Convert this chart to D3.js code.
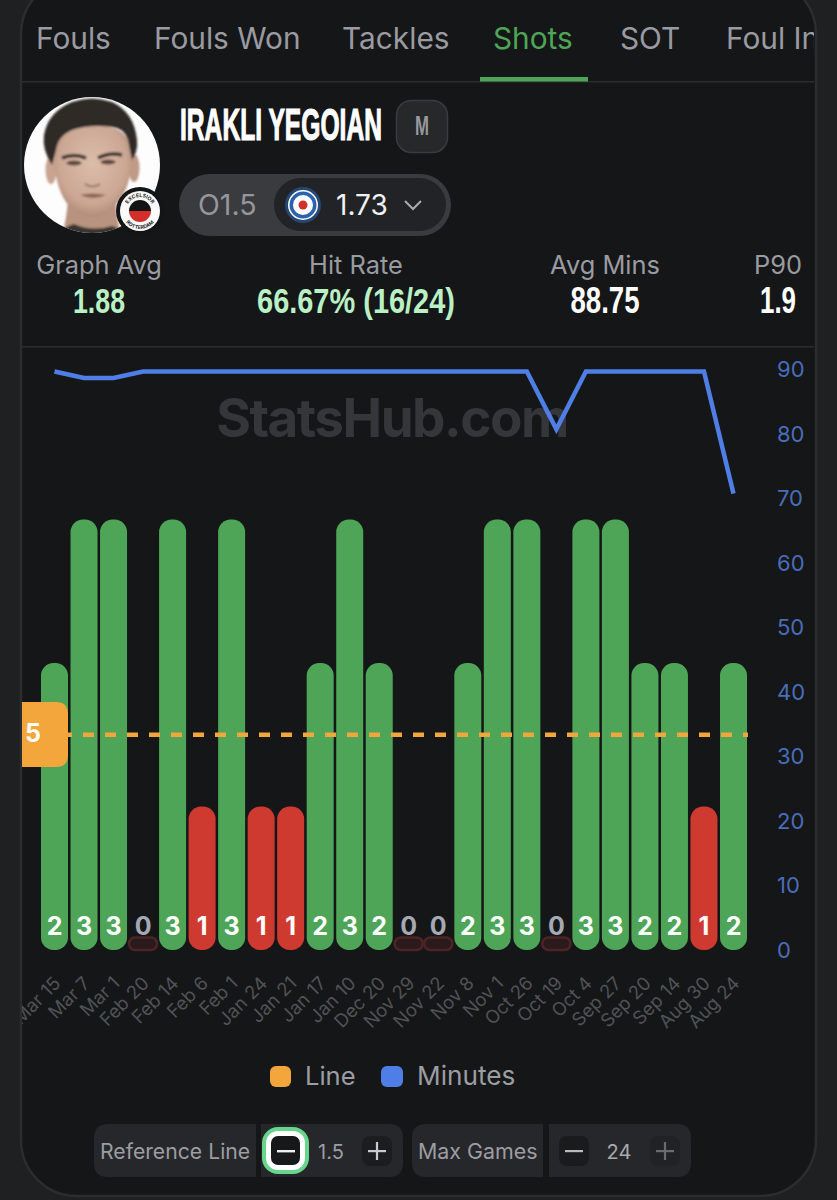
<!DOCTYPE html>
<html>
<head>
<meta charset="utf-8">
<script src="https://cdn.jsdelivr.net/npm/d3@7"></script>
<style>
  html, body { margin: 0; padding: 0; background: #1f2022; }
  svg { display: block; }
  text { font-family: Inter, "Open Sans", sans-serif; }
</style>
</head>
<body>
<svg id="chart" width="837" height="1200"></svg>
<script>
// Chart data
var dates = ["Mar 15", "Mar 7", "Mar 1", "Feb 20", "Feb 14", "Feb 6", "Feb 1", "Jan 24", "Jan 21", "Jan 17", "Jan 10", "Dec 20",
  "Nov 29", "Nov 22", "Nov 8", "Nov 1", "Oct 26", "Oct 19", "Oct 4", "Sep 27", "Sep 20", "Sep 14", "Aug 30", "Aug 24"];
var shots = [2, 3, 3, 0, 3, 1, 3, 1, 1, 2, 3, 2, 0, 0, 2, 3, 3, 0, 3, 3, 2, 2, 1, 2];
var minutes = [90, 89, 89, 90, 90, 90, 90, 90, 90, 90, 90, 90, 90, 90, 90, 90, 90, 81, 90, 90, 90, 90, 90, 71];
var minuteTicks = [0, 10, 20, 30, 40, 50, 60, 70, 80, 90];
var referenceLine = 1.5;

var tabs = ["Fouls", "Fouls Won", "Tackles", "Shots", "SOT", "Foul In"];
var tabX = [36, 154, 342, 493, 620, 726];
var statLabels = ["Graph Avg", "Hit Rate", "Avg Mins", "P90"];
var statValues = ["1.88", "66.67% (16/24)", "88.75", "1.9"];

var GREEN = "#4ea557", RED = "#cf3a30", BLUE = "#4f7fe6", ORANGE = "#f2a63c";
var svg = d3.select("#chart");
var defs = svg.append("defs");

function label(parent, x, y, str, size, fill, anchor, weight) {
  return parent.append("text").attr("x", x).attr("y", y).text(str)
    .attr("font-size", size).attr("fill", fill)
    .attr("text-anchor", anchor || "start").attr("font-weight", weight || 400);
}
// squeezed bold text for the name and the stat numbers, scaled to a given width
function narrow(parent, x, y, str, size, fill, width, anchor) {
  var t = label(parent, 0, 0, str, size, fill, anchor, 700)
    .style("font-family", "'Liberation Sans Narrow', 'Liberation Sans', sans-serif");
  var k = width / t.node().getComputedTextLength();
  return t.attr("transform", "translate(" + x + "," + y + ") scale(" + k + ",1)");
}

// Card
svg.append("rect").attr("x", 21).attr("y", -22).attr("width", 795).attr("height", 1218).attr("rx", 56)
  .attr("fill", "#151618").attr("stroke", "#2c2d2f").attr("stroke-width", 2.5);
defs.append("clipPath").attr("id", "cardClip").append("rect")
  .attr("x", 22).attr("y", -22).attr("width", 792).attr("height", 1218).attr("rx", 55);
var card = svg.append("g").attr("clip-path", "url(#cardClip)");

// Tabs
tabs.forEach(function(t, i) {
  label(card, tabX[i], 49, t, 29.8, t == "Shots" ? GREEN : "#9a9ba1");
});
card.append("rect").attr("x", 22).attr("y", 81).attr("width", 792).attr("height", 1.5).attr("fill", "#2b2c2e");
card.append("rect").attr("x", 480).attr("y", 77).attr("width", 108).attr("height", 4.5).attr("fill", GREEN);

// Player photo, drawn by hand
defs.append("clipPath").attr("id", "photoClip").append("circle").attr("cx", 92).attr("cy", 165).attr("r", 68);
var soft = defs.append("filter").attr("id", "soft");
soft.append("feGaussianBlur").attr("stdDeviation", 0.9);
var skin = defs.append("radialGradient").attr("id", "skin").attr("cx", "50%").attr("cy", "42%").attr("r", "62%");
skin.append("stop").attr("offset", "0%").attr("stop-color", "#dcbdaa");
skin.append("stop").attr("offset", "70%").attr("stop-color", "#cba794");
skin.append("stop").attr("offset", "100%").attr("stop-color", "#a98572");
card.append("circle").attr("cx", 92).attr("cy", 165).attr("r", 68).attr("fill", "#fdfdfd");
var photo = card.append("g").attr("clip-path", "url(#photoClip)").append("g").attr("filter", "url(#soft)");
photo.append("path").attr("d", "M62 236 Q66 222 68 200 L116 200 Q116 220 122 236 Z").attr("fill", "#b8937f");
photo.append("path").attr("d", "M52 240 Q64 226 74 224 Q92 232 112 226 Q124 230 132 240 Z").attr("fill", "#3a3431");
photo.append("ellipse").attr("cx", 51).attr("cy", 170).attr("rx", 5.5).attr("ry", 14).attr("fill", "#c8a490");
photo.append("ellipse").attr("cx", 134).attr("cy", 168).attr("rx", 5.5).attr("ry", 14).attr("fill", "#bf9a86");
photo.append("path").attr("d", "M54 150 Q54 128 92 124 Q130 126 131 150 Q133 185 118 202 Q104 218 92 217 Q78 217 66 202 Q54 185 54 150 Z").attr("fill", "url(#skin)");
photo.append("path").attr("d", "M52 165 Q42 150 44 135 Q48 112 72 102 Q92 95 112 102 Q134 112 137 140 Q138 152 132 160 L128 140 Q124 128 112 127 Q90 124 72 130 Q58 136 56 150 Z").attr("fill", "#2d2927");
photo.append("path").attr("d", "M62 158 Q74 153 86 158").attr("fill", "none").attr("stroke", "#3a2f2b").attr("stroke-width", 3.6);
photo.append("path").attr("d", "M98 158 Q110 152 122 155").attr("fill", "none").attr("stroke", "#3a2f2b").attr("stroke-width", 3.6);
photo.append("ellipse").attr("cx", 74).attr("cy", 163).attr("rx", 7.5).attr("ry", 2.4).attr("fill", "#5e463c");
photo.append("ellipse").attr("cx", 108).attr("cy", 162).attr("rx", 7.5).attr("ry", 2.4).attr("fill", "#5e463c");
photo.append("path").attr("d", "M85 184 Q92 189 100 184").attr("fill", "none").attr("stroke", "#a27e6c").attr("stroke-width", 2.2);
photo.append("path").attr("d", "M80 195 Q92 192 106 195 Q93 201 80 195 Z").attr("fill", "#8e6558");

// Club badge
card.append("circle").attr("cx", 140).attr("cy", 211).attr("r", 24).attr("fill", "#131415");
card.append("circle").attr("cx", 140).attr("cy", 211).attr("r", 20).attr("fill", "#fafafa");
card.append("path").attr("d", "M129 211 A11 11 0 0 1 151 211 Z").attr("fill", "#141414");
card.append("path").attr("d", "M129 211 A11 11 0 0 0 151 211 Z").attr("fill", "#d22f2a");
defs.append("path").attr("id", "badgeTop").attr("d", "M126 211 A14 14 0 0 1 154 211");
defs.append("path").attr("id", "badgeBottom").attr("d", "M122 211 A18 18 0 0 0 158 211");
card.append("text").attr("font-size", 5.2).attr("font-weight", 700).attr("fill", "#222")
  .append("textPath").attr("href", "#badgeTop").attr("startOffset", "50%").attr("text-anchor", "middle").text("EXCELSIOR");
card.append("text").attr("font-size", 5).attr("font-weight", 700).attr("fill", "#222")
  .append("textPath").attr("href", "#badgeBottom").attr("startOffset", "50%").attr("text-anchor", "middle").text("ROTTERDAM");

// Name and position
narrow(card, 180, 140, "IRAKLI YEGOIAN", 45, "#ffffff", 202).attr("stroke", "#ffffff").attr("stroke-width", 1.2);
card.append("rect").attr("x", 396.5).attr("y", 100.5).attr("width", 51).attr("height", 52).attr("rx", 15)
  .attr("fill", "#27282a").attr("stroke", "#3a3b3e").attr("stroke-width", 1.5);
narrow(card, 422, 135, "M", 27, "#98989f", 14, "middle");

// Odds pill
card.append("rect").attr("x", 179).attr("y", 174).attr("width", 272).attr("height", 62).attr("rx", 31).attr("fill", "#3a3b3f");
card.append("rect").attr("x", 274).attr("y", 178).attr("width", 172).attr("height", 53).attr("rx", 26.5).attr("fill", "#222326");
label(card, 198, 215, "O1.5", 28.5, "#96979c");
[[18, "#274671"], [15, "#ffffff"], [13.5, "#2a62ad"], [10, "#ffffff"], [4.5, "#d3312c"]].forEach(function(r) {
  card.append("circle").attr("cx", 303).attr("cy", 205).attr("r", r[0]).attr("fill", r[1]);
});
label(card, 336, 215, "1.73", 28, "#f2f2f2");
card.append("path").attr("d", "M405 201 L413 209 L421 201").attr("fill", "none").attr("stroke", "#a9aaae").attr("stroke-width", 2);

// Stats row
var statCenter = [99, 356, 605, 778], statWidth = [52, 198, 69, 36];
statLabels.forEach(function(t, i) {
  label(card, statCenter[i], 274, t, 25.4, "#9a9ba1", "middle");
  narrow(card, statCenter[i], 313, statValues[i], 36, i < 2 ? "#b9f0c4" : "#ffffff", statWidth[i], "middle");
});
card.append("rect").attr("x", 22).attr("y", 346).attr("width", 792).attr("height", 1.5).attr("fill", "#2b2c2e");

// Scales
var x = d3.scalePoint().domain(d3.range(dates.length)).range([54.5, 733.5]);
var y = d3.scaleLinear().domain([0, 3]).range([950, 519.5]);
var yMinutes = d3.scaleLinear().domain([0, 90]).range([950, 371.5]);
var yMinuteLabels = d3.scaleLinear().domain([0, 90]).range([950, 369.5]);
var barWidth = 27;

// Watermark
label(card, 392, 437, "StatsHub.com", 53, "#35363a", "middle", 700).attr("letter-spacing", -1.5);

// Bars
var played = shots.map(function(v, i) { return { v: v, i: i }; });
card.selectAll("rect.bar").data(played.filter(function(d) { return d.v > 0; })).enter().append("rect")
  .attr("class", "bar")
  .attr("x", function(d) { return x(d.i) - barWidth / 2; })
  .attr("y", function(d) { return y(d.v); })
  .attr("width", barWidth)
  .attr("height", function(d) { return y(0) - y(d.v); })
  .attr("rx", 12.5)
  .attr("fill", function(d) { return d.v > referenceLine ? GREEN : RED; });
// Games with no shots only get a small red outline
card.selectAll("rect.zero").data(played.filter(function(d) { return d.v == 0; })).enter().append("rect")
  .attr("class", "zero")
  .attr("x", function(d) { return x(d.i) - 14; })
  .attr("y", y(0) - 12.5)
  .attr("width", 28)
  .attr("height", 12.5)
  .attr("rx", 6)
  .attr("fill", "#2a1a1b")
  .attr("stroke", "#4d2426")
  .attr("stroke-width", 2.5);
// Bar values
card.selectAll("text.value").data(played).enter().append("text")
  .attr("class", "value")
  .attr("x", function(d) { return x(d.i); })
  .attr("y", 935)
  .attr("text-anchor", "middle")
  .attr("font-size", 25)
  .attr("font-weight", 700)
  .attr("fill", function(d) { return d.v == 0 ? "#a6a8b3" : "#ffffff"; })
  .text(function(d) { return d.v; });

// Reference line and its tag
card.append("line").attr("x1", 61).attr("x2", 748).attr("y1", y(referenceLine)).attr("y2", y(referenceLine))
  .attr("stroke", ORANGE).attr("stroke-width", 4.5).attr("stroke-dasharray", "11 11");
card.append("path").attr("d", "M22 702 H56 Q68 702 68 714 V755 Q68 767 56 767 H22 Z").attr("fill", ORANGE);
label(card, 33, 742, "5", 25, "#ffffff", "middle", 700);

// Minutes line
var line = d3.line().x(function(d, i) { return x(i); }).y(function(d) { return yMinutes(d); });
card.append("path").datum(minutes).attr("d", line)
  .attr("fill", "none").attr("stroke", BLUE).attr("stroke-width", 4.5).attr("stroke-linejoin", "miter");

// Right axis
var minutesAxis = card.append("g").attr("transform", "translate(766,0)")
  .call(d3.axisRight(yMinuteLabels).tickValues(minuteTicks).tickSize(0).tickPadding(11));
minutesAxis.select(".domain").remove();
minutesAxis.selectAll("text").attr("font-size", 22).attr("fill", "#4a6db8").style("font-family", "Inter, sans-serif");

// Date labels
var dateAxis = card.append("g").attr("transform", "translate(0,982)")
  .call(d3.axisBottom(x).tickFormat(function(i) { return dates[i]; }).tickSize(0).tickPadding(0));
dateAxis.select(".domain").remove();
dateAxis.selectAll("text")
  .attr("text-anchor", "end").attr("dy", "0.35em").attr("dx", 3).attr("y", 0)
  .attr("transform", "rotate(-45)")
  .attr("font-size", 18.5).attr("fill", "#505256").style("font-family", "Inter, sans-serif");

// Legend
card.append("rect").attr("x", 270).attr("y", 1066).attr("width", 21).attr("height", 21).attr("rx", 6).attr("fill", ORANGE);
label(card, 305, 1085, "Line", 25.5, "#9c9da2");
card.append("rect").attr("x", 381).attr("y", 1066).attr("width", 22).attr("height", 21).attr("rx", 6).attr("fill", BLUE);
label(card, 417, 1085, "Minutes", 26.2, "#9c9da2");

// Controls under the chart
function segment(left, right, roundLeft) {
  var r = 14, t = 1124, b = 1177;
  var d = roundLeft
    ? "M" + right + " " + t + " H" + (left + r) + " Q" + left + " " + t + " " + left + " " + (t + r) + " V" + (b - r) + " Q" + left + " " + b + " " + (left + r) + " " + b + " H" + right + " Z"
    : "M" + left + " " + t + " H" + (right - r) + " Q" + right + " " + t + " " + right + " " + (t + r) + " V" + (b - r) + " Q" + right + " " + b + " " + (right - r) + " " + b + " H" + left + " Z";
  card.append("path").attr("d", d).attr("fill", "#26272a");
}
function stepButton(cx, sign, fill, color) {
  card.append("rect").attr("x", cx - 15).attr("y", 1136).attr("width", 30).attr("height", 30).attr("rx", 8).attr("fill", fill);
  card.append("rect").attr("x", cx - 9).attr("y", 1150).attr("width", 18).attr("height", 2.2).attr("fill", color);
  if (sign == "+") card.append("rect").attr("x", cx - 1.1).attr("y", 1142).attr("width", 2.2).attr("height", 18).attr("fill", color);
}
segment(94, 256, true);
segment(261, 403, false);
segment(412, 543, true);
segment(549, 691, false);
label(card, 100, 1159, "Reference Line", 21.2, "#9c9da2");
label(card, 418, 1159, "Max Games", 21.4, "#9c9da2");
label(card, 331, 1159, "1.5", 20, "#9c9da2", "middle");
label(card, 619, 1159, "24", 20, "#a9aaae", "middle");
card.append("rect").attr("x", 262).attr("y", 1127).attr("width", 47).attr("height", 47).attr("rx", 16).attr("fill", "#65d68c");
card.append("rect").attr("x", 266).attr("y", 1131).attr("width", 39).attr("height", 39).attr("rx", 12).attr("fill", "#ffffff");
card.append("rect").attr("x", 271).attr("y", 1136).attr("width", 29).attr("height", 29).attr("rx", 7).attr("fill", "#17181a");
card.append("rect").attr("x", 277).attr("y", 1150).attr("width", 18).attr("height", 2.4).attr("fill", "#f0f0f0");
stepButton(377, "+", "#1c1d1f", "#c9cacd");
stepButton(574, "-", "#1a1b1d", "#b9babd");
stepButton(665, "+", "#212225", "#6a6b6f");
</script>
</body>
</html>
